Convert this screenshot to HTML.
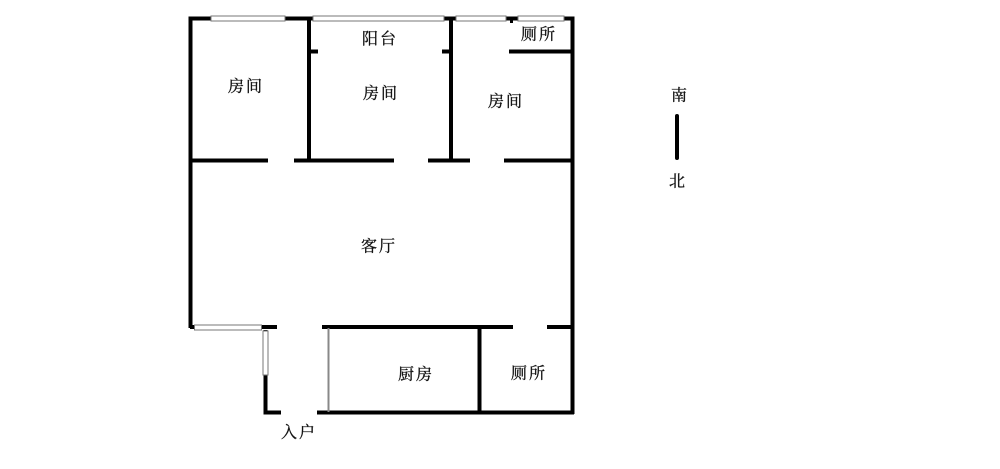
<!DOCTYPE html>
<html><head><meta charset="utf-8"><style>
html,body{margin:0;padding:0;background:#fff;width:1000px;height:469px;overflow:hidden}
svg{display:block}
text{font-family:"Liberation Serif","Noto Serif CJK SC",serif;font-size:16px;fill:#111;stroke:#111;stroke-width:.3;text-anchor:middle;dominant-baseline:central;letter-spacing:2px}
.w{stroke:#000;stroke-width:4;fill:none}
.win{fill:#fff;stroke:#777;stroke-width:1}
</style></head><body>
<svg width="1000" height="469" viewBox="0 0 1000 469" xmlns="http://www.w3.org/2000/svg">
<rect width="1000" height="469" fill="#fff"/>
<g class="w">
<path d="M190.500 16.500V328M189 18.500H572.500V414M190 327H262"/>
<path d="M309 18V160M309 51.500H318M451 18V160M442 51.500H451M509 51.500H572"/>
<path d="M191 160.500H268M294 160.500H394M428 160.500H470M504 160.500H572"/>
<path d="M262 327H277M322 327H513M547 327H572M479.500 327V412"/>
<path d="M265.500 330V414.500M264 412.500H281M317 412.500H574"/>
<path d="M511.500 18V23" stroke-width="3"/>
<path d="M677 116V158" stroke-linecap="round"/>
</g>
<g class="win">
<rect x="211" y="16" width="74" height="5"/>
<rect x="313" y="16" width="131" height="5"/>
<rect x="456" y="16" width="50" height="5"/>
<rect x="518" y="16" width="46" height="5"/>
<rect x="194.500" y="325" width="67" height="5"/>
<rect x="263" y="331" width="5" height="44"/>
</g>
<path d="M328.500 328V412" stroke="#888" stroke-width="2"/>
<text x="246" y="87">房间</text>
<text x="380" y="39.500">阳台</text>
<text x="381" y="94">房间</text>
<text x="506" y="102">房间</text>
<text x="539" y="35">厕所</text>
<text x="379" y="247">客厅</text>
<text x="416" y="375">厨房</text>
<text x="529" y="374">厕所</text>
<text x="299" y="433">入户</text>
<text x="680" y="96">南</text>
<text x="678" y="182">北</text>
</svg>
</body></html>
